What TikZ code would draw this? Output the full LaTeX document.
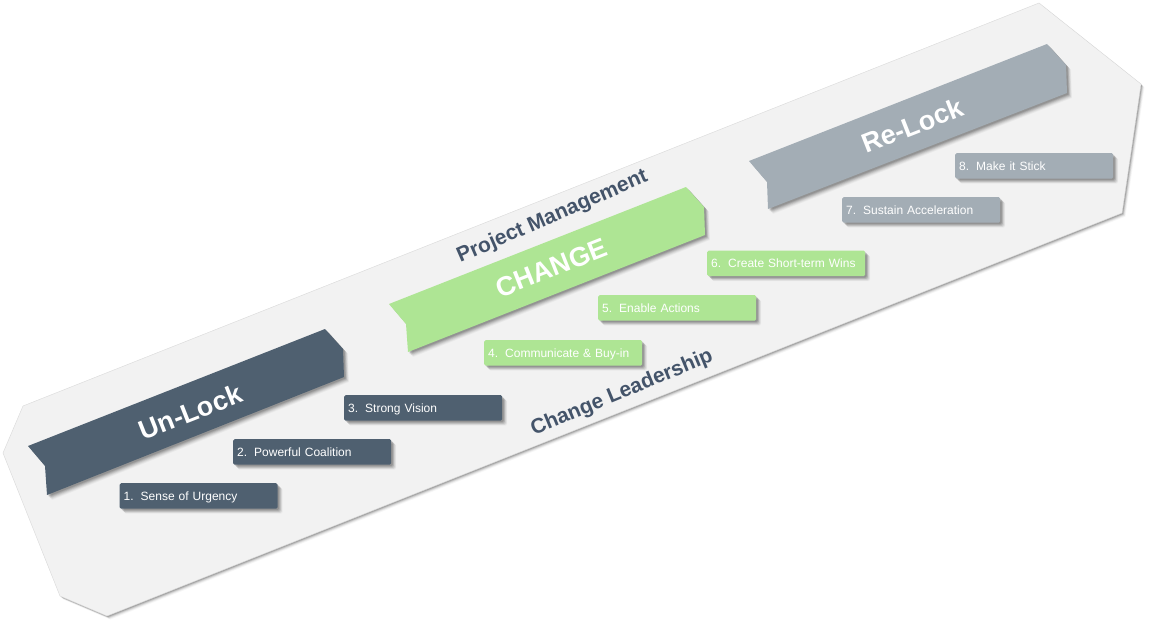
\documentclass[tikz,border=0pt]{standalone}
\usepackage{fontspec}
\setmainfont{Liberation Sans}
\definecolor{slate}{HTML}{4F6070}
\definecolor{leaf}{HTML}{AEE594}
\definecolor{steel}{HTML}{A3ADB5}
\definecolor{panel}{HTML}{F2F2F2}
\definecolor{heading}{HTML}{44546A}
\newcommand{\stepgap}{\hspace{7pt}}
\tikzset{
  sh/.style args={#1/#2/#3}{preaction={draw=none,fill=black,fill opacity=#3,transform canvas={xshift=#1pt,yshift=-#2pt}}},
  softshadow/.style={sh={5/5/.03},sh={4.4/4.4/.04},sh={3.8/3.8/.05},sh={3.2/3.2/.07},sh={2.6/2.6/.08},sh={2/2/.09},sh={1.4/1.4/.10}},
  panelshadow/.style={sh={3.5/3.5/.03},sh={2.8/2.8/.05},sh={2.2/2.2/.07},sh={1.6/1.6/.10},sh={1/1/.14}},
  stepbox/.style={softshadow,rounded corners=1.5pt,minimum width=158pt,minimum height=25.5pt,inner ysep=0pt,
    text=white,font=\fontsize{12}{14}\selectfont,align=left,anchor=north west,text width=150pt,inner xsep=4pt,text height=9.6pt,text depth=1pt},
  ribbon/.style={softshadow},
  ribbonlabel/.style={text=white,font=\fontsize{27}{32}\bfseries\selectfont,rotate=21.5,inner sep=0pt},
  sidelabel/.style={text=heading,font=\fontsize{21}{26}\bfseries\selectfont,inner sep=0pt},
}
\begin{document}
\begin{tikzpicture}[x=1pt,y=-1pt]
\useasboundingbox (0,0) rectangle (1150,626);
\fill[white] (0,0) rectangle (1150,626);
\draw[panelshadow,fill=panel,draw=black!15,line width=.4pt]
  (23,406) -- (1039,3) -- (1141,84) -- (1122,213) -- (107,616) -- (60,596) -- (3,453) -- cycle;

\fill[ribbon,fill=slate] (28,446) -- (325,329) -- (343,349) -- (344,377) -- (47,495) -- (45,466) -- cycle;
\fill[ribbon,fill=leaf] (389,304) -- (686,187) -- (704,207) -- (705,235) -- (408,352) -- (406,324) -- cycle;
\fill[ribbon,fill=steel] (749,161) -- (1047,44) -- (1066,65) -- (1067,93) -- (768,209) -- (767,182) -- cycle;

\node[ribbonlabel] (unlock) at (190.5,412) {Un-Lock};
\node[ribbonlabel] (change) at (551.5,268) {CHANGE};
\node[ribbonlabel] (relock) at (912.5,125.5) {Re-Lock};

\node[sidelabel,rotate=23.5] (pm) at (552.5,217) {Project Management};
\node[sidelabel,rotate=22.5] (cl) at (622,393) {Change Leadership};

\node[stepbox,fill=slate] (s1) at (119.5,483) {1.\stepgap Sense of Urgency};
\node[stepbox,fill=slate] (s2) at (233,439) {2.\stepgap Powerful Coalition};
\node[stepbox,fill=slate] (s3) at (344,395) {3.\stepgap Strong Vision};
\node[stepbox,fill=leaf] (s4) at (484,340) {4.\stepgap Communicate \& Buy-in};
\node[stepbox,fill=leaf] (s5) at (598,295) {5.\stepgap Enable Actions};
\node[stepbox,fill=leaf] (s6) at (707,250.5) {6.\stepgap Create Short-term Wins};
\node[stepbox,fill=steel] (s7) at (842,197) {7.\stepgap Sustain Acceleration};
\node[stepbox,fill=steel] (s8) at (955,153) {8.\stepgap Make it Stick};
\end{tikzpicture}
\end{document}
